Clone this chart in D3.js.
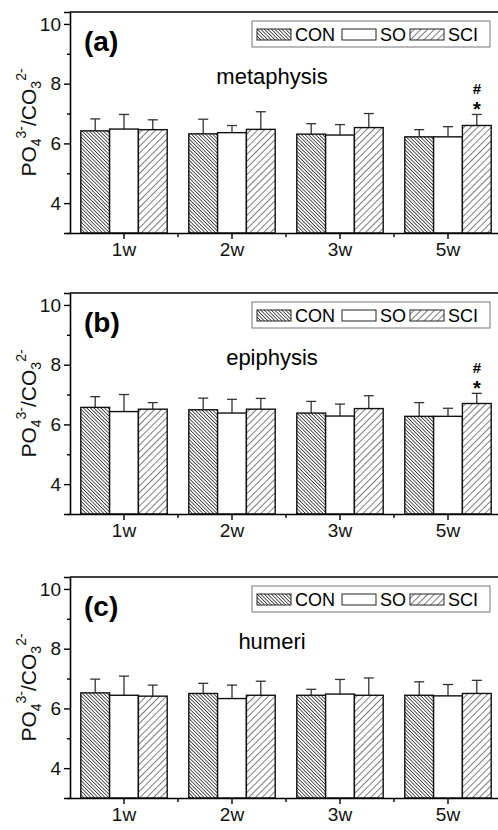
<!DOCTYPE html>
<html>
<head>
<meta charset="utf-8">
<script src="https://cdn.jsdelivr.net/npm/d3@7"></script>
<style>
  body { margin: 0; background: #fff; }
  svg { display: block; font-family: Arial, 'Liberation Sans', sans-serif; }
</style>
</head>
<body>
<div id="chart"></div>
<script>
// data
const categories = ['1w', '2w', '3w', '5w'];
const series = ['CON', 'SO', 'SCI'];
const yTicks = [4, 6, 8, 10];
const yMinorTicks = [3, 5, 7, 9];

const panelLabels = ['(a)', '(b)', '(c)'];
const panelNames = ['metaphysis', 'epiphysis', 'humeri'];

// means and upper error per week
const metaCON = [6.42, 6.32, 6.31, 6.22];
const metaSO = [6.48, 6.36, 6.28, 6.22];
const metaSCI = [6.46, 6.47, 6.53, 6.60];
const metaCONerr = [0.40, 0.49, 0.35, 0.24];
const metaSOerr = [0.49, 0.24, 0.35, 0.34];
const metaSCIerr = [0.33, 0.59, 0.47, 0.37];

const epiCON = [6.57, 6.49, 6.38, 6.27];
const epiSO = [6.43, 6.38, 6.28, 6.27];
const epiSCI = [6.51, 6.51, 6.53, 6.70];
const epiCONerr = [0.36, 0.39, 0.39, 0.46];
const epiSOerr = [0.57, 0.46, 0.40, 0.27];
const epiSCIerr = [0.22, 0.36, 0.43, 0.34];

const humCON = [6.52, 6.50, 6.44, 6.44];
const humSO = [6.44, 6.33, 6.48, 6.42];
const humSCI = [6.41, 6.44, 6.44, 6.50];
const humCONerr = [0.46, 0.34, 0.20, 0.45];
const humSOerr = [0.64, 0.45, 0.49, 0.38];
const humSCIerr = [0.37, 0.47, 0.58, 0.44];

// significance marks: [panel, week, series, text]
const marks = [
  [0, '5w', 'SCI', ['#', '*']],
  [1, '5w', 'SCI', ['#', '*']]
];

const panels = [
  {means: [metaCON, metaSO, metaSCI], errs: [metaCONerr, metaSOerr, metaSCIerr]},
  {means: [epiCON, epiSO, epiSCI], errs: [epiCONerr, epiSOerr, epiSCIerr]},
  {means: [humCON, humSO, humSCI], errs: [humCONerr, humSOerr, humSCIerr]}
];

let w = 498;
let h = 830;
let left = 70;
let right = 502;
let tops = [12, 293, 577];
let plotH = 221;

let svg = d3.select('#chart').
append('svg').
attr('width', w).
attr('height', h);

// hatch patterns
let defs = svg.append('defs');
function hatch(id, gap, angle, sw) {
  let p = defs.append('pattern').
  attr('id', id).
  attr('patternUnits', 'userSpaceOnUse').
  attr('width', gap).
  attr('height', gap).
  attr('patternTransform', 'rotate(' + angle + ')');
  p.append('rect').attr('width', gap).attr('height', gap).attr('fill', '#fff');
  p.append('line').
  attr('x1', 0).attr('y1', 0).
  attr('x2', 0).attr('y2', gap).
  attr('stroke', '#111').
  attr('stroke-width', sw);
}
hatch('hCON', 2.5, -45, 1.4);
hatch('hSCI', 4.8, 45, 1.1);
let fills = {CON: 'url(#hCON)', SO: '#fff', SCI: 'url(#hSCI)'};

let xScale = d3.scaleBand().
domain(categories).
range([left, right]).
paddingInner(0.2).
paddingOuter(0.1);

let xSub = d3.scaleBand().
domain(series).
range([0, xScale.bandwidth()]);

panels.forEach((pd, pi) => {
  let top = tops[pi];
  let bottom = top + plotH;
  let yScale = d3.scaleLinear().
  domain([3, 10.4]).
  range([bottom, top]);

  let g = svg.append('g');

  // frame: top line
  g.append('line').
  attr('x1', left).attr('x2', right).
  attr('y1', top).attr('y2', top).
  attr('stroke', '#000').attr('stroke-width', 1.6);

  // bars
  series.forEach((s, si) => {
    categories.forEach((c, ci) => {
      let v = pd.means[si][ci];
      let e = pd.errs[si][ci];
      let x0 = xScale(c) + xSub(s);
      let cx = x0 + xSub.bandwidth() / 2;
      g.append('line').
      attr('x1', cx).attr('x2', cx).
      attr('y1', yScale(v)).attr('y2', yScale(v + e)).
      attr('stroke', '#333').attr('stroke-width', 1.3);
      g.append('line').
      attr('x1', cx - 5).attr('x2', cx + 5).
      attr('y1', yScale(v + e)).attr('y2', yScale(v + e)).
      attr('stroke', '#333').attr('stroke-width', 1.3);
      g.append('rect').
      attr('x', x0).
      attr('y', yScale(v)).
      attr('width', xSub.bandwidth()).
      attr('height', yScale(3) - yScale(v)).
      attr('fill', fills[s]).
      attr('stroke', '#111').
      attr('stroke-width', 1.4);
    });
  });

  // significance marks
  marks.filter(m => m[0] === pi).forEach(m => {
    let si = series.indexOf(m[2]);
    let ci = categories.indexOf(m[1]);
    let cx = xScale(m[1]) + xSub(m[2]) + xSub.bandwidth() / 2;
    let yTop = yScale(pd.means[si][ci] + pd.errs[si][ci]);
    g.append('text').
    attr('x', cx).attr('y', yTop + 2).
    attr('text-anchor', 'middle').
    attr('font-size', 20).attr('font-weight', 'bold').
    text(m[3][1]);
    g.append('text').
    attr('x', cx).attr('y', yTop - 20).
    attr('text-anchor', 'middle').
    attr('font-size', 15).attr('font-weight', 'bold').
    text(m[3][0]);
  });

  // y axis
  let yAxis = d3.axisLeft(yScale).
  tickValues(yTicks).
  tickSize(6).
  tickPadding(3).
  tickFormat(d3.format('d'));
  let ya = g.append('g').
  attr('transform', 'translate(' + left + ',0)').
  call(yAxis);
  ya.select('.domain').attr('stroke-width', 1.6);
  ya.selectAll('text').attr('font-size', 19).attr('fill', '#111');
  ya.selectAll('.tick line').attr('stroke-width', 1.4);

  g.append('g').
  attr('transform', 'translate(' + left + ',0)').
  call(d3.axisLeft(yScale).tickValues(yMinorTicks).tickSize(3).tickFormat('')).
  call(a => a.select('.domain').remove()).
  selectAll('line').attr('stroke-width', 1.4);

  // x axis
  let xAxis = d3.axisBottom(xScale).
  tickSize(6).
  tickSizeOuter(0).
  tickPadding(4);
  let xa = g.append('g').
  attr('transform', 'translate(0,' + bottom + ')').
  call(xAxis);
  xa.select('.domain').attr('stroke-width', 1.6);
  xa.selectAll('text').attr('font-size', 19).attr('fill', '#111');
  xa.selectAll('.tick line').attr('stroke-width', 1.4);

  let minorX = categories.slice(1).map(c => xScale(c) - xScale.step() * xScale.paddingInner() / 2);
  g.selectAll('.mx').
  data(minorX).
  enter().
  append('line').
  attr('x1', d => d).attr('x2', d => d).
  attr('y1', bottom).attr('y2', bottom + 4).
  attr('stroke', '#000').attr('stroke-width', 1.4);

  // y title
  let yt = g.append('text').
  attr('transform', 'translate(36,' + (top + plotH / 2) + ') rotate(-90)').
  attr('text-anchor', 'middle').
  attr('font-size', 21).
  attr('fill', '#111');
  yt.append('tspan').text('PO');
  yt.append('tspan').attr('dy', 5).attr('font-size', 14).text('4');
  yt.append('tspan').attr('dy', -15).attr('font-size', 14).text('3-');
  yt.append('tspan').attr('dy', 10).text('/CO');
  yt.append('tspan').attr('dy', 5).attr('font-size', 14).text('3');
  yt.append('tspan').attr('dy', -15).attr('font-size', 14).text('2-');

  // panel letter and name
  g.append('text').
  attr('x', 84).attr('y', top + 39).
  attr('font-size', 28).attr('font-weight', 'bold').
  text(panelLabels[pi]);
  g.append('text').
  attr('x', 272).attr('y', top + 72).
  attr('text-anchor', 'middle').
  attr('font-size', 22).
  text(panelNames[pi]);

  // legend
  let lg = g.append('g').attr('transform', 'translate(252,' + (top + 9) + ')');
  lg.append('rect').
  attr('width', 238).attr('height', 26).
  attr('fill', '#fff').attr('stroke', '#777').attr('stroke-width', 1);
  let lx = [5, 90, 158];
  series.forEach((s, si) => {
    lg.append('rect').
    attr('x', lx[si]).attr('y', 8).
    attr('width', 34).attr('height', 11).
    attr('fill', fills[s]).attr('stroke', '#222').attr('stroke-width', 1);
    lg.append('text').
    attr('x', lx[si] + 38).attr('y', 20).
    attr('font-size', 18).
    text(s);
  });
});
</script>
</body>
</html>
